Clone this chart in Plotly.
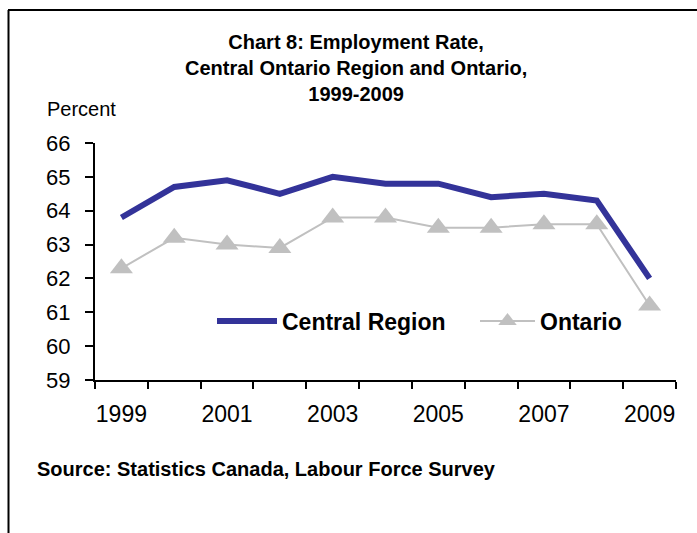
import plotly.graph_objects as go

# Employment rate (%) by year
years = list(range(1999, 2010))
central_region = [63.8, 64.7, 64.9, 64.5, 65.0, 64.8, 64.8, 64.4, 64.5, 64.3, 62.0]
ontario = [62.3, 63.2, 63.0, 62.9, 63.8, 63.8, 63.5, 63.5, 63.6, 63.6, 61.2]

year_tick_labels = ["1999", "2001", "2003", "2005", "2007", "2009"]
percent_ticks = [59, 60, 61, 62, 63, 64, 65, 66]

W, H = 697, 533
PLOT_L, PLOT_R, PLOT_T, PLOT_B = 95, 676, 143, 380
FONT = "Liberation Sans, Arial, sans-serif"


def fx(px):
    """pixel x -> paper x"""
    return (px - PLOT_L) / (PLOT_R - PLOT_L)


def fy(py):
    """pixel y -> paper y"""
    return (PLOT_B - py) / (PLOT_B - PLOT_T)


fig = go.Figure()

fig.add_trace(go.Scatter(
    x=years, y=central_region, name="Central Region",
    mode="lines",
    line=dict(color="#333399", width=6),
    legend="legend",
))
fig.add_trace(go.Scatter(
    x=years, y=ontario, name="Ontario",
    mode="lines+markers",
    line=dict(color="#C0C0C0", width=2),
    marker=dict(symbol="triangle-up", size=20, color="#C0C0C0"),
    legend="legend2",
))

# year boundaries for the tick marks between categories
boundaries = [y - 0.5 for y in years] + [years[-1] + 0.5]

fig.update_xaxes(
    range=[years[0] - 0.5, years[-1] + 0.5],
    tickvals=[int(t) for t in year_tick_labels],
    ticktext=year_tick_labels,
    ticks="",
    ticklabelstandoff=12,
    minor=dict(tickvals=boundaries, ticks="outside", ticklen=7,
               tickwidth=2, tickcolor="black"),
    showline=True, linecolor="black", linewidth=2,
    showgrid=False, zeroline=False,
    tickfont=dict(family=FONT, size=23, color="black"),
)
fig.update_yaxes(
    range=[59, 66],
    tickvals=percent_ticks,
    ticks="outside", ticklen=8, tickwidth=2, tickcolor="black",
    ticklabelstandoff=10,
    showline=True, linecolor="black", linewidth=2,
    showgrid=False, zeroline=False,
    tickfont=dict(family=FONT, size=22, color="black"),
)

title_lines = ["Chart 8: Employment Rate,",
               "Central Ontario Region and Ontario,",
               "1999-2009"]

annotations = [
    dict(text="<br>".join("<b>%s</b>" % s for s in title_lines),
         xref="paper", yref="paper",
         x=fx(356), y=fy(68), xanchor="center", yanchor="middle",
         font=dict(family=FONT, size=20, color="black"), showarrow=False),
    dict(text="Percent", xref="paper", yref="paper",
         x=fx(45), y=fy(109), xanchor="left", yanchor="middle",
         font=dict(family=FONT, size=20, color="black"), showarrow=False),
    dict(text="<b>Source: Statistics Canada, Labour Force Survey</b>",
         xref="paper", yref="paper",
         x=fx(35), y=fy(469), xanchor="left", yanchor="middle",
         font=dict(family=FONT, size=20, color="black"), showarrow=False),
]

shapes = [
    dict(type="line", xref="paper", yref="paper",
         x0=fx(8), x1=fx(W), y0=fy(10), y1=fy(10),
         line=dict(color="black", width=2)),
    dict(type="line", xref="paper", yref="paper",
         x0=fx(8.5), x1=fx(8.5), y0=fy(10), y1=fy(H),
         line=dict(color="black", width=2)),
]

legend_font = dict(family=FONT, size=23, color="black", weight="bold")

fig.update_layout(
    width=W, height=H,
    margin=dict(l=PLOT_L, r=W - PLOT_R, t=PLOT_T, b=H - PLOT_B, pad=0),
    paper_bgcolor="white", plot_bgcolor="white",
    font=dict(family=FONT, color="black"),
    annotations=annotations,
    shapes=shapes,
    showlegend=True,
    legend=dict(
        orientation="h", x=fx(212), y=fy(321),
        xanchor="left", yanchor="middle",
        bgcolor="rgba(0,0,0,0)", font=legend_font, itemwidth=60,
    ),
    legend2=dict(
        orientation="h", x=fx(475), y=fy(321),
        xanchor="left", yanchor="middle",
        bgcolor="rgba(0,0,0,0)", font=legend_font, itemwidth=55,
    ),
)

fig.write_html("out.html")
